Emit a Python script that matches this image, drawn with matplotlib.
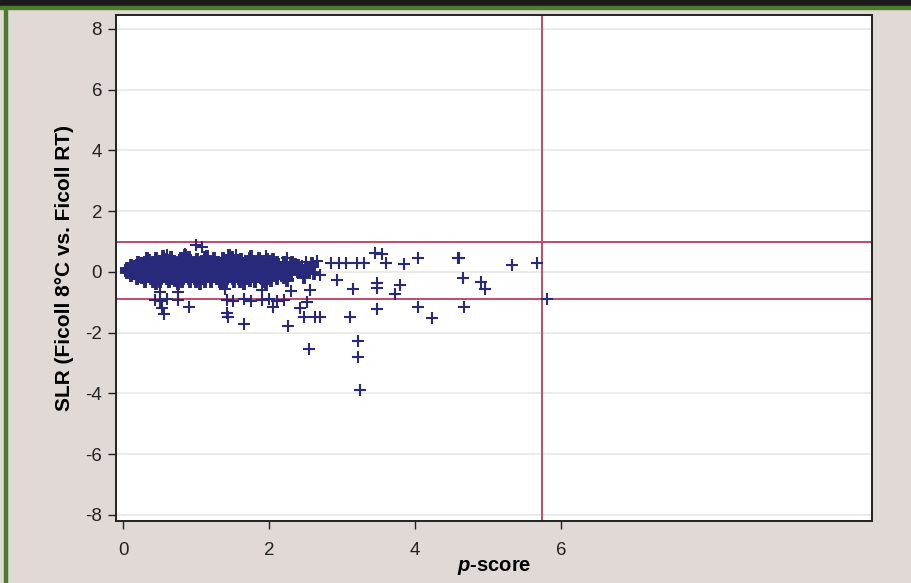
import matplotlib.pyplot as plt
from matplotlib.patches import Rectangle

# dense core of probes (p-score, SLR)
core_x = [
    0.32, 0.45, 0.56, 0.66, 0.79, 0.9, 1.01, 1.12, 1.24, 1.37, 1.49, 1.61, 1.73, 1.86, 1.97,
    0.2, 0.3, 0.41, 0.5, 0.61, 0.7, 0.81, 0.9, 1.0, 1.1, 1.21, 1.3, 1.4, 1.51, 1.6, 1.7, 1.81, 1.9, 2.0, 2.1, 2.2, 2.31,
    0.1, 0.19, 0.3, 0.4, 0.5, 0.59, 0.7, 0.8, 0.91, 1.0, 1.1, 1.2, 1.31, 1.4, 1.5, 1.6, 1.7, 1.8, 1.9, 2.0, 2.1, 2.2, 2.3, 2.4,
    0.05, 0.12, 0.2, 0.3, 0.4, 0.5, 0.6, 0.7, 0.8, 0.9, 1.0, 1.1, 1.2, 1.3, 1.4, 1.5, 1.6, 1.7, 1.8, 1.9, 2.0, 2.1, 2.2, 2.3, 2.42,
    0.05, 0.12, 0.21, 0.3, 0.4, 0.5, 0.6, 0.7, 0.8, 0.9, 1.0, 1.1, 1.2, 1.3, 1.4, 1.5, 1.6, 1.7, 1.8, 1.9, 2.0, 2.1, 2.2, 2.3, 2.4,
    0.1, 0.2, 0.3, 0.4, 0.5, 0.6, 0.7, 0.8, 0.9, 1.0, 1.1, 1.2, 1.3, 1.4, 1.5, 1.6, 1.7, 1.8, 1.9, 2.0, 2.1, 2.2, 2.3,
    0.19, 0.3, 0.4, 0.5, 0.6, 0.7, 0.8, 0.9, 1.0, 1.1, 1.2, 1.3, 1.4, 1.5, 1.6, 1.7, 1.8, 1.9, 2.0, 2.1, 2.2,
    0.3, 0.41, 0.5, 0.62, 0.71, 0.8, 0.92, 1.0, 1.12, 1.2, 1.33, 1.41, 1.52, 1.6, 1.73, 1.81, 1.92, 2.02,
    0.15, 0.25, 0.35, 0.55, 0.85, 1.15, 1.45, 1.75, 2.05, 2.35, 2.5, 2.55, 2.62,
    0.15, 0.25, 0.45, 0.75, 1.05, 1.35, 1.65, 1.95, 2.25, 2.48, 2.58,
]
core_y = [
    0.41, 0.44, 0.4, 0.46, 0.42, 0.45, 0.39, 0.47, 0.43, 0.41, 0.45, 0.4, 0.44, 0.42, 0.38,
    0.3, 0.31, 0.29, 0.32, 0.3, 0.33, 0.3, 0.31, 0.29, 0.32, 0.3, 0.31, 0.3, 0.33, 0.29, 0.31, 0.3, 0.32, 0.29, 0.31, 0.3, 0.28,
    0.2, 0.21, 0.19, 0.2, 0.22, 0.2, 0.21, 0.19, 0.2, 0.21, 0.2, 0.19, 0.21, 0.2, 0.22, 0.2, 0.19, 0.21, 0.2, 0.2, 0.21, 0.19, 0.2, 0.18,
    0.1, 0.11, 0.1, 0.09, 0.11, 0.1, 0.1, 0.12, 0.1, 0.09, 0.1, 0.11, 0.1, 0.1, 0.09, 0.11, 0.1, 0.1, 0.12, 0.1, 0.09, 0.1, 0.11, 0.1, 0.08,
    0.0, 0.01, -0.01, 0.0, 0.01, 0.0, -0.01, 0.0, 0.01, 0.0, 0.0, -0.01, 0.0, 0.01, 0.0, 0.0, -0.01, 0.0, 0.01, 0.0, -0.01, 0.0, 0.01, 0.0, 0.02,
    -0.09, -0.1, -0.11, -0.1, -0.09, -0.1, -0.1, -0.11, -0.1, -0.09, -0.1, -0.1, -0.11, -0.1, -0.09, -0.1, -0.1, -0.11, -0.1, -0.09, -0.1, -0.11, -0.08,
    -0.19, -0.2, -0.21, -0.2, -0.19, -0.2, -0.21, -0.2, -0.2, -0.19, -0.21, -0.2, -0.2, -0.19, -0.21, -0.2, -0.2, -0.19, -0.21, -0.2, -0.18,
    -0.3, -0.29, -0.31, -0.3, -0.28, -0.3, -0.31, -0.29, -0.3, -0.31, -0.29, -0.3, -0.31, -0.3, -0.28, -0.3, -0.29, -0.27,
    0.15, 0.25, 0.36, 0.5, 0.52, 0.5, 0.53, 0.49, 0.4, 0.22, 0.12, 0.05, -0.05,
    -0.05, -0.15, -0.37, -0.38, -0.36, -0.38, -0.37, -0.34, -0.26, -0.15, 0.25,
]

# sparse probes around the core and the tail
tail_x = [
    1.0, 1.08, 0.6, 0.85, 1.55, 1.95, 2.25,
    0.44, 0.5, 0.6, 0.75, 1.42, 1.5, 1.65, 1.75, 1.9, 2.0, 2.1, 2.2,
    0.5, 0.75, 1.4, 1.9, 2.3, 2.56, 2.93, 2.45, 2.6, 2.7,
    2.5, 2.65, 2.84, 2.95, 3.05, 3.2, 3.3, 3.45, 3.55, 3.6, 3.84,
    3.15, 3.48, 3.48, 3.79, 3.73,
    0.56, 0.53, 0.9, 1.42, 1.44, 1.66, 2.05, 2.26, 2.42, 2.47, 2.52, 2.63, 2.7,
    2.55, 3.1, 3.22, 3.22, 3.25, 3.47,
    4.04, 4.04, 4.23, 4.59, 4.6, 4.66, 4.9, 4.96, 4.67, 5.33, 5.67, 5.81,
]
tail_y = [
    0.88, 0.82, 0.55, 0.58, 0.56, 0.52, 0.45,
    -0.92, -0.95, -0.9, -0.94, -0.92, -0.96, -0.9, -0.95, -0.93, -0.9, -0.95, -0.92,
    -0.66, -0.66, -0.55, -0.6, -0.62, -0.6, -0.26, 0.2, 0.15, -0.1,
    0.32, 0.35, 0.3, 0.29, 0.3, 0.31, 0.3, 0.62, 0.58, 0.3, 0.26,
    -0.56, -0.36, -0.53, -0.43, -0.72,
    -1.38, -1.2, -1.15, -1.35, -1.48, -1.71, -1.15, -1.78, -1.2, -1.48, -1.0, -1.48, -1.48,
    -2.53, -1.48, -2.27, -2.8, -3.88, -1.22,
    0.46, -1.15, -1.5, 0.46, 0.46, -0.2, -0.33, -0.56, -1.15, 0.23, 0.3, -0.89,
]

slr_upper = 1.0
slr_lower = -0.9
p_cut = 5.74

navy = '#28297a'
red = '#c24a68'

plt.rcParams['axes.unicode_minus'] = False
plt.rcParams['mathtext.fontset'] = 'custom'
plt.rcParams['mathtext.bfit'] = 'Liberation Sans:bold:italic'

W, H = 911, 583
fig = plt.figure(figsize=(W / 100, H / 100), dpi=100, facecolor='#e0d9d6')
# dark band and green rule along the top, green rule on the left
fig.patches.append(Rectangle((0, 1 - 6 / H), 1, 6 / H, transform=fig.transFigure, color='#1d1a1a', zorder=0))
fig.patches.append(Rectangle((0, 1 - 9 / H), 1, 3 / H, transform=fig.transFigure, color='#4b7b2c', zorder=0))
fig.patches.append(Rectangle((4 / W, 0), 3 / W, 1 - 9 / H, transform=fig.transFigure, color='#4b7b2c', zorder=0))

ax = fig.add_axes([116 / W, 62 / H, 756 / W, 506 / H])
ax.set_facecolor('white')

ax.plot(core_x, core_y, linestyle='none', marker='+', markersize=10, mew=2.8, color=navy, zorder=3)
ax.plot(tail_x, tail_y, linestyle='none', marker='+', markersize=8, mew=1.5, color=navy, zorder=3)

ax.axhline(slr_upper, color=red, lw=1.4, zorder=2)
ax.axhline(slr_lower, color=red, lw=1.4, zorder=2)
ax.axvline(p_cut, color=red, lw=1.4, zorder=2)

ax.set_xlim(-0.1, 10.26)
ax.set_ylim(-8.2, 8.46)
ax.set_xticks([0, 2, 4, 6])
ax.set_yticks([-8, -6, -4, -2, 0, 2, 4, 6, 8])
ax.grid(axis='y', color='#e8e8e8', lw=1.2, zorder=1)

for side in ax.spines.values():
    side.set_color('#222222')
    side.set_linewidth(1.4)
ax.tick_params(direction='out', length=6, width=1, colors='#222222',
               labelsize=13.5, labelcolor='#222222')
ax.tick_params(axis='x', pad=9)
ax.tick_params(axis='y', pad=4)

for lbl in ax.get_xticklabels() + ax.get_yticklabels():
    lbl.set_family('Liberation Sans')

ax.set_xlabel(r'$\mathbfit{p}$-score', family='Liberation Sans', fontweight='bold',
              fontsize=14.5, labelpad=-1)
ax.set_ylabel('SLR (Ficoll 8°C vs. Ficoll RT)', family='Liberation Sans', fontweight='bold',
              fontsize=15, labelpad=8)

fig.savefig('out.png', dpi=100, facecolor=fig.get_facecolor())
